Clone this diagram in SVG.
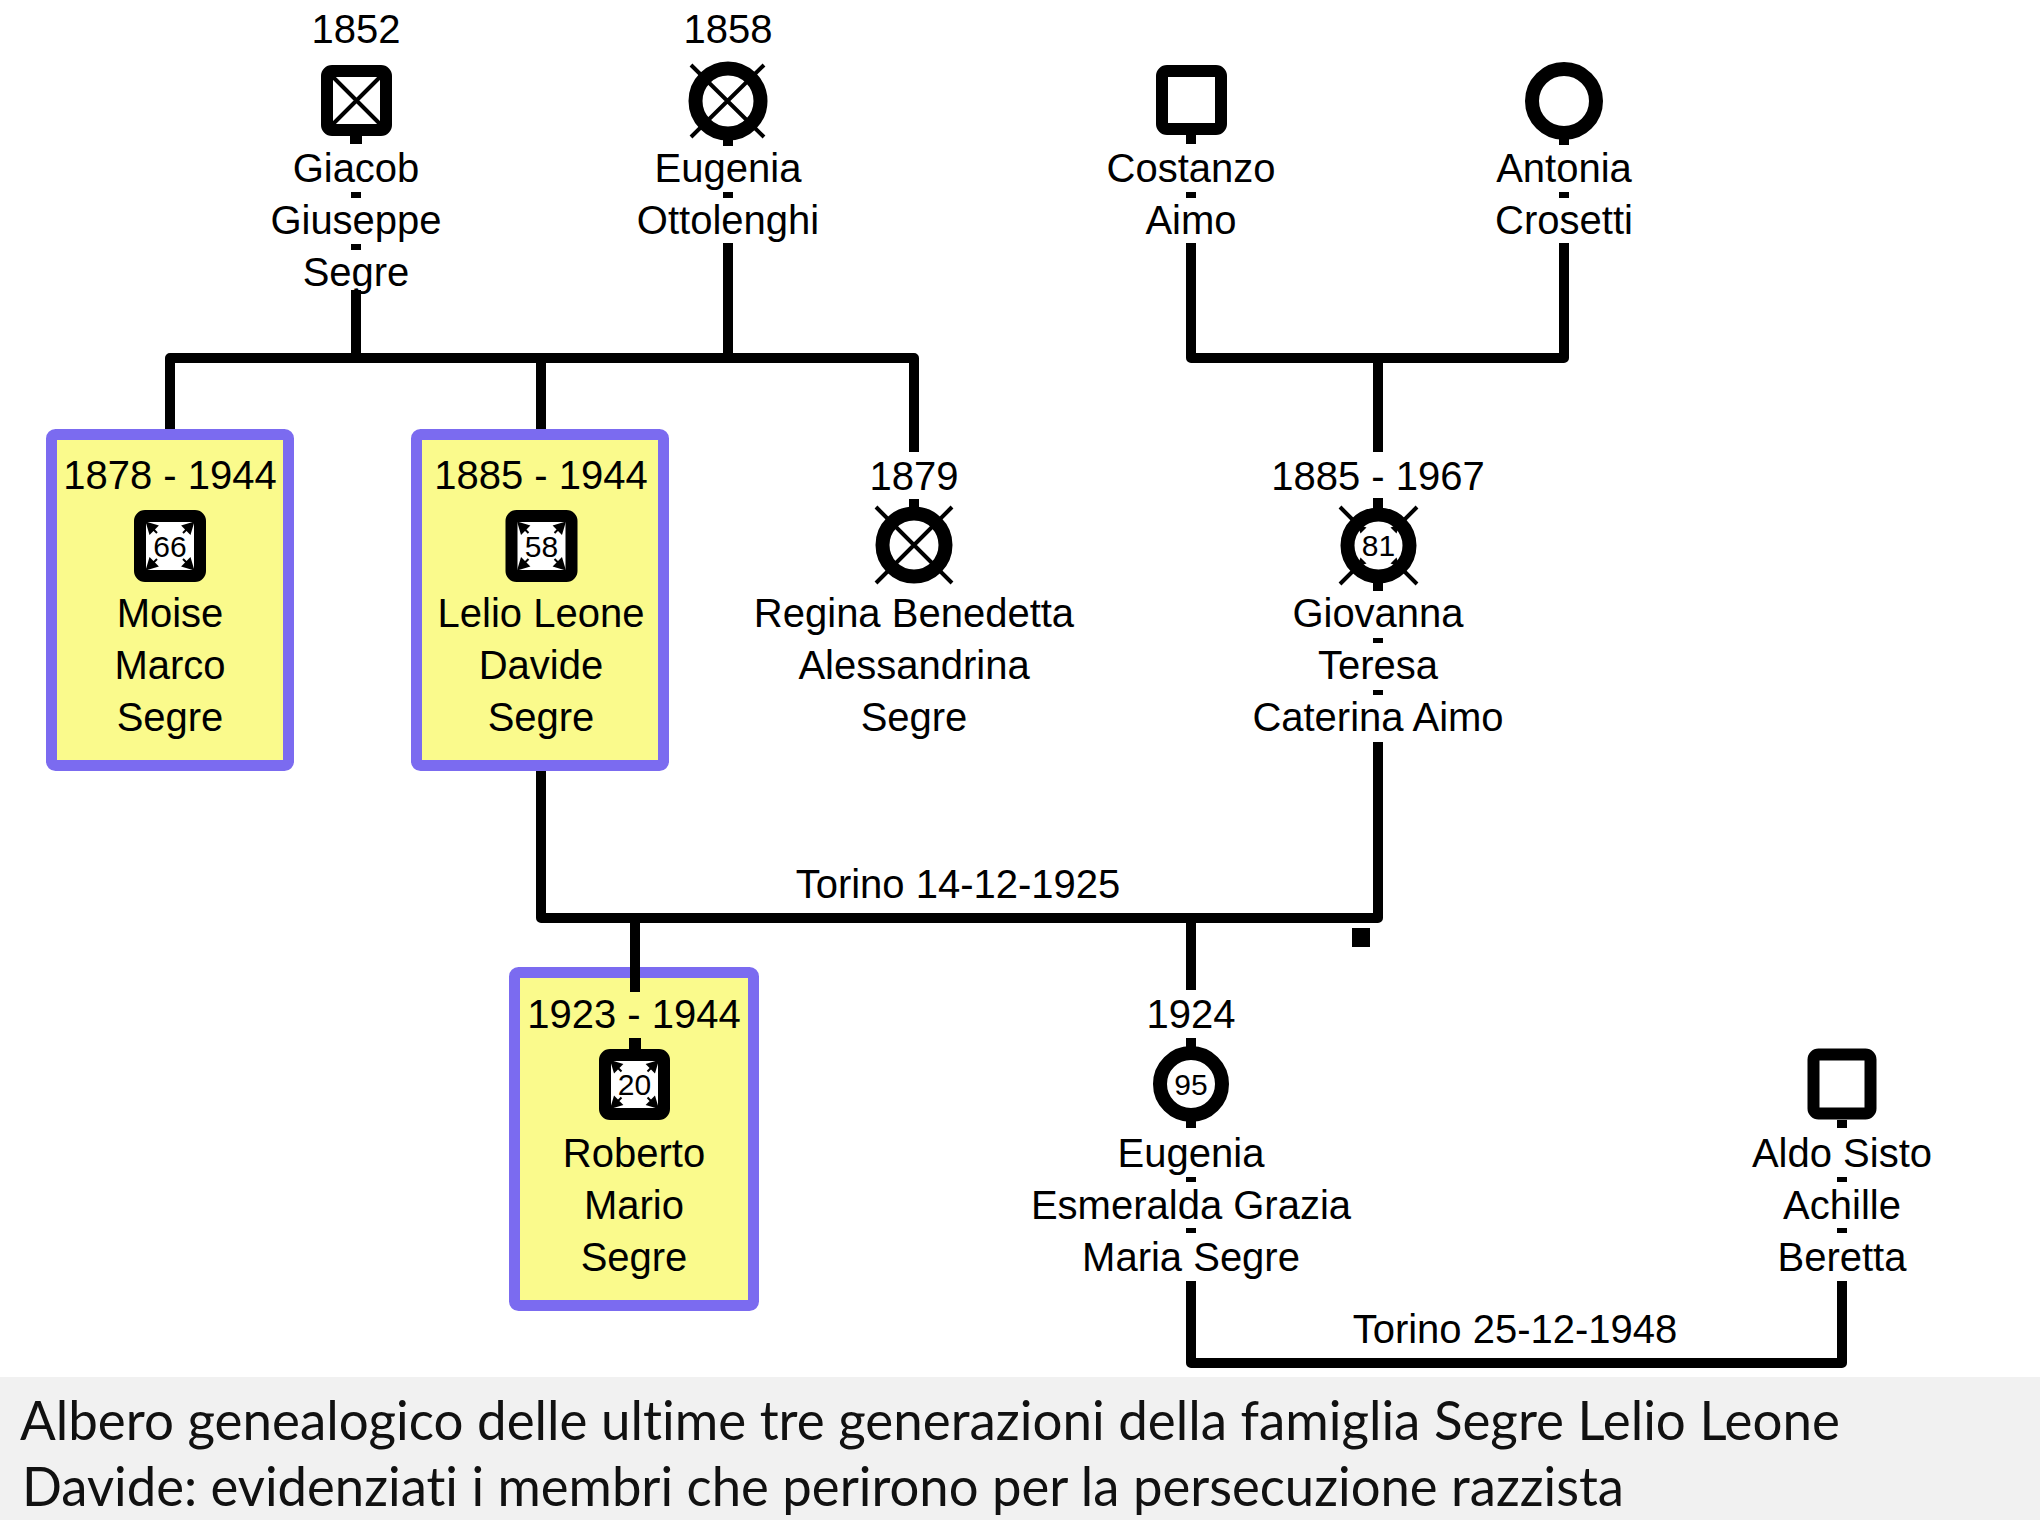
<svg xmlns="http://www.w3.org/2000/svg" width="2040" height="1530" viewBox="0 0 2040 1530">
<style>
.t{font-family:"Liberation Sans",Arial,sans-serif;font-size:40px;text-anchor:middle;fill:#000}
.n{font-family:"Liberation Sans",Arial,sans-serif;font-size:30px;text-anchor:middle;fill:#000}
.ln{fill:none;stroke:#000;stroke-width:10;stroke-linejoin:round}
.box{fill:#FAFA8C;stroke:#7B6BF0;stroke-width:11}
.sq{fill:#fff;stroke:#000;stroke-width:12}
.ring{fill:#fff;stroke:#000;stroke-width:14}
.x{stroke:#000;stroke-width:4}
.d{fill:#000}
.cap{font-family:Lato,"Open Sans","Noto Sans",sans-serif;font-size:54px;fill:#111;font-variant-ligatures:none;font-feature-settings:"liga" 0}
</style>
<defs>
<g id="arrs">
<path d="M-23,-23 L-13,-20 L-20,-13 Z M-19,-19 L-13,-13" fill="#000" stroke="#000" stroke-width="2"/>
<path d="M23,-23 L13,-20 L20,-13 Z M19,-19 L13,-13" fill="#000" stroke="#000" stroke-width="2"/>
<path d="M-23,23 L-13,20 L-20,13 Z M-19,19 L-13,13" fill="#000" stroke="#000" stroke-width="2"/>
<path d="M23,23 L13,20 L20,13 Z M19,19 L13,13" fill="#000" stroke="#000" stroke-width="2"/>
</g>
<g id="arrc">
<path d="M-21,-21 L-12,-18 L-18,-12 Z" fill="#000"/>
<path d="M21,-21 L12,-18 L18,-12 Z" fill="#000"/>
<path d="M-21,21 L-12,18 L-18,12 Z" fill="#000"/>
<path d="M21,21 L12,18 L18,12 Z" fill="#000"/>
</g>
</defs>
<rect width="2040" height="1530" fill="#fff"/>

<!-- Top row -->
<g id="giacob">
<text class="t" x="356" y="43">1852</text>
<rect class="sq" x="327" y="71" width="59" height="59" rx="5"/>
<path class="x" d="M333,77 L380,124 M380,77 L333,124" stroke-width="3.5"/>
<rect class="d" x="350" y="136" width="12" height="8"/>
<text class="t" x="356" y="182">Giacob</text>
<rect class="d" x="351" y="192" width="10" height="6"/>
<text class="t" x="356" y="234">Giuseppe</text>
<rect class="d" x="351" y="244" width="10" height="6"/>
<text class="t" x="356" y="286">Segre</text>
</g>

<g id="eugenia-ottolenghi">
<text class="t" x="728" y="43">1858</text>
<circle class="ring" cx="728" cy="101" r="32.5"/>
<path class="x" d="M691,65 L764,137 M764,65 L691,137"/>
<rect class="d" x="723" y="139" width="10" height="7"/>
<text class="t" x="728" y="182">Eugenia</text>
<rect class="d" x="723" y="192" width="10" height="6"/>
<text class="t" x="728" y="234">Ottolenghi</text>
</g>

<g id="costanzo">
<rect class="sq" x="1162" y="71" width="59" height="58" rx="5"/>
<rect class="d" x="1186" y="134" width="10" height="10"/>
<text class="t" x="1191" y="182">Costanzo</text>
<rect class="d" x="1186" y="192" width="10" height="6"/>
<text class="t" x="1191" y="234">Aimo</text>
</g>

<g id="antonia">
<circle class="ring" cx="1564" cy="101" r="32" stroke-width="13"/>
<rect class="d" x="1559" y="138" width="10" height="7"/>
<text class="t" x="1564" y="182">Antonia</text>
<rect class="d" x="1559" y="192" width="10" height="6"/>
<text class="t" x="1564" y="234">Crosetti</text>
</g>

<!-- Row 2 -->
<g id="moise">
<rect class="box" x="51.5" y="434.5" width="237" height="331" rx="4"/>
<text class="t" x="170" y="489">1878 - 1944</text>
<rect class="sq" x="140" y="516" width="60" height="60" rx="5" stroke-width="13"/>
<use href="#arrs" transform="translate(170,546)"/>
<text class="n" x="170" y="557">66</text>
<text class="t" x="170" y="627">Moise</text>
<text class="t" x="170" y="679">Marco</text>
<text class="t" x="170" y="731">Segre</text>
</g>

<g id="lelio">
<rect class="box" x="416.5" y="434.5" width="247" height="331" rx="4"/>
<text class="t" x="541" y="489">1885 - 1944</text>
<rect class="sq" x="511.5" y="516" width="60" height="60" rx="5" stroke-width="13"/>
<use href="#arrs" transform="translate(541.5,546)"/>
<text class="n" x="541.5" y="557">58</text>
<text class="t" x="541" y="627">Lelio Leone</text>
<text class="t" x="541" y="679">Davide</text>
<text class="t" x="541" y="731">Segre</text>
</g>

<g id="regina">
<text class="t" x="914" y="490">1879</text>
<rect class="d" x="909" y="499" width="10" height="9"/>
<circle class="ring" cx="914" cy="545" r="31.5"/>
<path class="x" d="M876,507 L952,583 M952,507 L876,583"/>
<text class="t" x="914" y="627">Regina Benedetta</text>
<text class="t" x="914" y="679">Alessandrina</text>
<text class="t" x="914" y="731">Segre</text>
</g>

<g id="giovanna">
<text class="t" x="1378" y="490">1885 - 1967</text>
<rect class="d" x="1373" y="498" width="10" height="10"/>
<path class="x" d="M1340,507 L1417,584 M1417,507 L1340,584"/>
<circle class="ring" cx="1378.5" cy="545.5" r="31"/>
<use href="#arrc" transform="translate(1378.5,545.5)"/>
<text class="n" x="1378.5" y="556">81</text>
<rect class="d" x="1373" y="583" width="10" height="8"/>
<text class="t" x="1378" y="627">Giovanna</text>
<rect class="d" x="1373" y="638" width="10" height="5"/>
<text class="t" x="1378" y="679">Teresa</text>
<rect class="d" x="1373" y="690" width="10" height="5"/>
<text class="t" x="1378" y="731">Caterina Aimo</text>
</g>

<!-- Row 3 -->
<g id="roberto">
<rect class="box" x="514.5" y="972.5" width="239" height="333" rx="4"/>
<text class="t" x="634" y="1028">1923 - 1944</text>
<rect class="d" x="629" y="1038" width="12" height="11"/>
<rect class="sq" x="605" y="1055" width="59" height="59" rx="5" stroke-width="12"/>
<use href="#arrs" transform="translate(634.5,1084.5)"/>
<text class="n" x="634.5" y="1095">20</text>
<text class="t" x="634" y="1167">Roberto</text>
<text class="t" x="634" y="1219">Mario</text>
<text class="t" x="634" y="1271">Segre</text>
</g>

<g id="eugenia-segre">
<text class="t" x="1191" y="1028">1924</text>
<rect class="d" x="1186" y="1038" width="10" height="9"/>
<circle class="ring" cx="1191" cy="1084" r="31"/>
<text class="n" x="1191" y="1095">95</text>
<rect class="d" x="1186" y="1121" width="10" height="7"/>
<text class="t" x="1191" y="1167">Eugenia</text>
<rect class="d" x="1186" y="1177" width="10" height="5"/>
<text class="t" x="1191" y="1219">Esmeralda Grazia</text>
<rect class="d" x="1186" y="1228" width="10" height="5"/>
<text class="t" x="1191" y="1271">Maria Segre</text>
</g>

<g id="aldo">
<rect class="sq" x="1813.5" y="1054.5" width="57" height="59" rx="5" stroke-width="13"/>
<rect class="d" x="1837" y="1120" width="10" height="8"/>
<text class="t" x="1842" y="1167">Aldo Sisto</text>
<rect class="d" x="1837" y="1177" width="10" height="5"/>
<text class="t" x="1842" y="1219">Achille</text>
<rect class="d" x="1837" y="1228" width="10" height="5"/>
<text class="t" x="1842" y="1271">Beretta</text>
</g>

<!-- Connectors -->
<g id="connectors">
<path class="ln" d="M170,429 V358 H914 V452"/>
<path class="ln" d="M356,290 V358"/>
<path class="ln" d="M728,243 V358"/>
<path class="ln" d="M541,358 V429"/>
<path class="ln" d="M1191,243 V358 H1564 V243"/>
<path class="ln" d="M1378,358 V452"/>
<path class="ln" d="M541,771 V918 H1378 V742"/>
<path class="ln" d="M635,918 V992" stroke-width="12"/>
<path class="ln" d="M1191,918 V990"/>
<path class="ln" d="M1191,1281 V1363 H1842 V1281"/>
<rect class="d" x="1352" y="928" width="18" height="19"/>
<text class="t" x="958" y="898">Torino 14-12-1925</text>
<text class="t" x="1515" y="1343">Torino 25-12-1948</text>
</g>

<!-- Caption -->
<g id="caption">
<rect x="0" y="1377" width="2040" height="143" fill="#f1f1f1"/>
<text class="cap" x="20" y="1440" textLength="1820" lengthAdjust="spacingAndGlyphs">Albero genealogico delle ultime tre generazioni della famiglia Segre Lelio Leone</text>
<text class="cap" x="22" y="1506" textLength="1602" lengthAdjust="spacingAndGlyphs">Davide: evidenziati i membri che perirono per la persecuzione razzista</text>
</g>
</svg>
